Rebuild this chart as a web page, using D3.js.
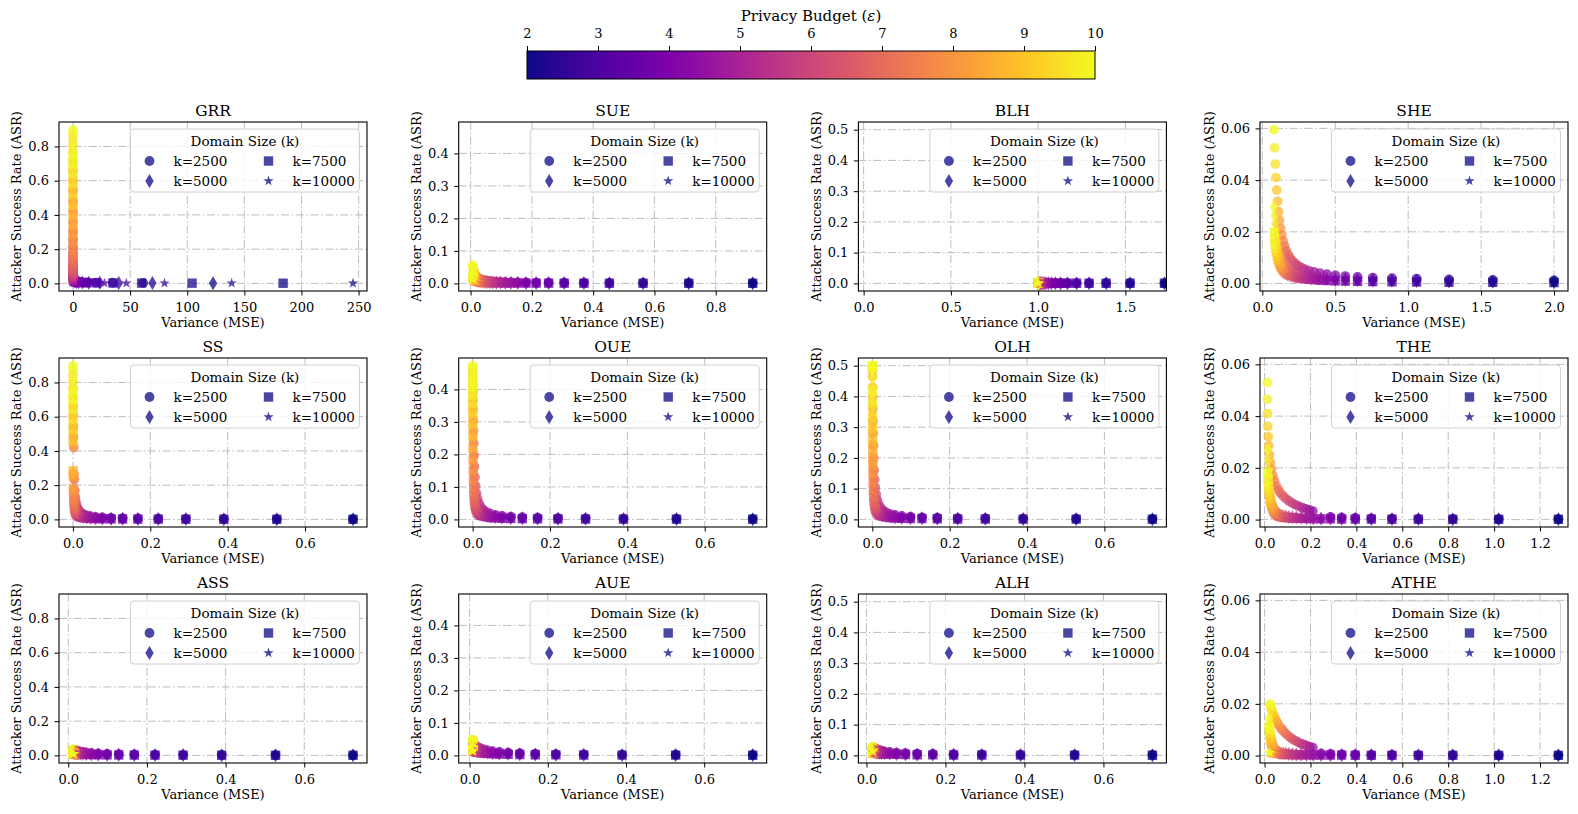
<!DOCTYPE html>
<html><head><meta charset="utf-8">
<script src="https://cdn.jsdelivr.net/npm/d3@7"></script>
<style>
body{margin:0;background:#fff;}
svg{display:block;font-family:"DejaVu Serif",serif;}
</style></head><body>
<svg id="chart" width="1578" height="814"></svg>
<script>
// ---------------- DATA ----------------
const epsilons = [2, 2.25, 2.5, 2.75, 3, 3.25, 3.5, 3.75, 4, 4.25, 4.5, 4.75, 5, 5.25, 5.5, 5.75, 6, 6.25, 6.5, 6.75, 7, 7.25, 7.5, 7.75, 8, 8.25, 8.5, 8.75, 9, 9.25, 9.5, 9.75, 10];
const domainSizes = [2500, 5000, 7500, 10000];
const domainLabels = ["k=2500", "k=5000", "k=7500", "k=10000"];
const panelNames = ["GRR", "SUE", "BLH", "SHE", "SS", "OUE", "OLH", "THE", "ASS", "AUE", "ALH", "ATHE"];
const colorbarTicks = [2, 3, 4, 5, 6, 7, 8, 9, 10];

const xTicksGRR = [0, 50, 100, 150, 200, 250];
const xTicksSUE = [0, 0.2, 0.4, 0.6, 0.8];
const xTicksBLH = [0, 0.5, 1.0, 1.5];
const xTicksSHE = [0, 0.5, 1.0, 1.5, 2.0];
const xTicksUnit = [0, 0.2, 0.4, 0.6];
const xTicksTHE = [0, 0.2, 0.4, 0.6, 0.8, 1.0, 1.2];
const yTicksCol1 = [0, 0.2, 0.4, 0.6, 0.8];
const yTicksCol2 = [0, 0.1, 0.2, 0.3, 0.4];
const yTicksCol3 = [0, 0.1, 0.2, 0.3, 0.4, 0.5];
const yTicksCol4 = [0, 0.02, 0.04, 0.06];
const xLimitsBLH = [-0.03, 1.735];
const xLimitsTHE = [-0.02, 1.322];

// GRR
const varGRR_2500 = [61.4, 34.8, 20.07, 11.72, 6.91, 4.107, 2.454, 1.474, 0.888, 0.538, 0.327, 0.199, 0.1218, 0.0748, 0.0462, 0.0287, 0.0179, 0.0113, 0.0072, 0.0046, 0.003, 0.002, 0.0013, 0.0009, 0.0006, 0.0004, 0.0003, 0.0002, 0.00016, 0.00012, 0.00009, 0.00007, 0.00005];
const varGRR_5000 = [122.6, 69.5, 40.07, 23.38, 13.77, 8.175, 4.878, 2.924, 1.759, 1.061, 0.642, 0.39, 0.237, 0.144, 0.0883, 0.0542, 0.0334, 0.0206, 0.0128, 0.008, 0.0051, 0.0032, 0.0021, 0.0014, 0.0009, 0.0006, 0.0004, 0.0003, 0.0002, 0.00014, 0.0001, 0.000075, 0.000056];
const varGRR_7500 = [183.9, 104.2, 60.06, 35.04, 20.64, 12.24, 7.302, 4.374, 2.629, 1.585, 0.958, 0.58, 0.352, 0.214, 0.1304, 0.0796, 0.0488, 0.03, 0.0185, 0.0115, 0.0072, 0.0045, 0.0029, 0.0018, 0.0012, 0.0008, 0.0005, 0.00035, 0.00024, 0.00017, 0.00012, 0.000084, 0.000061];
const varGRR_10000 = [245.1, 138.9, 80.06, 46.7, 27.5, 16.31, 9.726, 5.824, 3.499, 2.108, 1.273, 0.77, 0.467, 0.2835, 0.1725, 0.1051, 0.0642, 0.0393, 0.0242, 0.0149, 0.0092, 0.0058, 0.0036, 0.0023, 0.0015, 0.0009, 0.0006, 0.0004, 0.00028, 0.00019, 0.00013, 0.000092, 0.000066];
const asrGRR_2500 = [0.00295, 0.00378, 0.00485, 0.00622, 0.00797, 0.01021, 0.01308, 0.01673, 0.02138, 0.02729, 0.03477, 0.0442, 0.05606, 0.0709, 0.0892, 0.1117, 0.139, 0.1717, 0.2102, 0.2547, 0.305, 0.3604, 0.4198, 0.4816, 0.544, 0.605, 0.663, 0.7163, 0.7643, 0.8063, 0.8424, 0.8728, 0.8981];
const asrGRR_5000 = [0.00148, 0.00189, 0.00243, 0.00312, 0.004, 0.00513, 0.00658, 0.00843, 0.0108, 0.01383, 0.01769, 0.0226, 0.02883, 0.03672, 0.04666, 0.05913, 0.07468, 0.0939, 0.1174, 0.1459, 0.1799, 0.2198, 0.2656, 0.3171, 0.3736, 0.4336, 0.4958, 0.558, 0.6185, 0.6755, 0.7277, 0.7743, 0.815];
const asrGRR_7500 = [0.000984, 0.001264, 0.001622, 0.002081, 0.002672, 0.003427, 0.004397, 0.005638, 0.007228, 0.009263, 0.01186, 0.01518, 0.01941, 0.02478, 0.0316, 0.04021, 0.05105, 0.06461, 0.08147, 0.1023, 0.1276, 0.1581, 0.1943, 0.2364, 0.2844, 0.3379, 0.3959, 0.457, 0.5194, 0.5811, 0.6405, 0.6958, 0.746];
const asrGRR_10000 = [0.000738, 0.000948, 0.001217, 0.001562, 0.002005, 0.002573, 0.003301, 0.004234, 0.005431, 0.006963, 0.008923, 0.01143, 0.01463, 0.0187, 0.02389, 0.03047, 0.03878, 0.04925, 0.06237, 0.0787, 0.09883, 0.1234, 0.1531, 0.1884, 0.2297, 0.2768, 0.3296, 0.3869, 0.4476, 0.5099, 0.5719, 0.6318, 0.6878];

// SUE
const varSUE = [0.9207, 0.712, 0.5629, 0.4529, 0.3697, 0.3054, 0.2546, 0.2139, 0.181, 0.154, 0.1317, 0.1131, 0.0974, 0.0842, 0.073, 0.0634, 0.0551, 0.0481, 0.042, 0.0367, 0.0321, 0.0281, 0.0247, 0.0216, 0.019, 0.0167, 0.0147, 0.0129, 0.0114, 0.01, 0.0088, 0.0078, 0.0068];
const asrSUE_2500 = [0.00109, 0.00123, 0.00139, 0.00158, 0.00179, 0.00203, 0.0023, 0.0026, 0.00295, 0.00334, 0.00378, 0.00428, 0.00485, 0.00549, 0.00622, 0.00704, 0.00797, 0.00903, 0.01021, 0.01156, 0.01308, 0.01479, 0.01673, 0.01892, 0.02138, 0.02416, 0.02729, 0.0308, 0.03477, 0.03922, 0.0442, 0.0498, 0.05606];
const asrSUE_5000 = [0.000543, 0.000616, 0.000698, 0.000791, 0.000896, 0.001015, 0.00115, 0.0013, 0.00148, 0.00167, 0.00189, 0.00215, 0.00243, 0.00276, 0.00312, 0.00353, 0.004, 0.00453, 0.00513, 0.00581, 0.00658, 0.00745, 0.00843, 0.00955, 0.0108, 0.01223, 0.01383, 0.01564, 0.01769, 0.02, 0.0226, 0.02553, 0.02883];
const asrSUE_7500 = [0.000362, 0.000411, 0.000465, 0.000527, 0.000597, 0.000677, 0.000767, 0.000869, 0.000984, 0.001115, 0.001264, 0.001432, 0.001622, 0.001837, 0.002081, 0.002358, 0.002672, 0.003026, 0.003427, 0.003881, 0.004397, 0.00498, 0.005638, 0.006384, 0.007228, 0.008184, 0.009263, 0.01048, 0.01186, 0.01342, 0.01518, 0.01717, 0.01941];
const asrSUE_10000 = [0.000272, 0.000308, 0.000349, 0.000395, 0.000448, 0.000508, 0.000575, 0.000652, 0.000738, 0.000837, 0.000948, 0.001074, 0.001217, 0.001379, 0.001562, 0.00177, 0.002005, 0.002271, 0.002573, 0.002914, 0.003301, 0.003739, 0.004234, 0.004796, 0.005431, 0.006149, 0.006963, 0.007882, 0.008923, 0.0101, 0.01143, 0.01293, 0.01463];

// BLH
const varBLH = [1.724, 1.5267, 1.3898, 1.2918, 1.2205, 1.1679, 1.1284, 1.0987, 1.076, 1.0587, 1.0454, 1.0352, 1.0273, 1.0212, 1.0165, 1.0128, 1.00997, 1.00775, 1.00603, 1.00469, 1.00365, 1.00284, 1.00221, 1.00172, 1.00134, 1.00104, 1.00081, 1.00063, 1.00049, 1.00038, 1.0003, 1.00023, 1.00018];
const asrBLH_2500 = [0.0007, 0.00072, 0.00074, 0.00075, 0.00076, 0.00077, 0.00078, 0.00078, 0.00079, 0.00079, 0.00079, 0.0008, 0.0008, 0.0008, 0.0008, 0.0008, 0.0008, 0.0008, 0.0008, 0.0008, 0.0008, 0.0008, 0.0008, 0.0008, 0.0008, 0.0008, 0.0008, 0.0008, 0.0008, 0.0008, 0.0008, 0.0008, 0.0008];
const asrBLH_5000 = [0.00035, 0.00036, 0.00037, 0.00037, 0.00038, 0.00038, 0.00039, 0.00039, 0.00039, 0.0004, 0.0004, 0.0004, 0.0004, 0.0004, 0.0004, 0.0004, 0.0004, 0.0004, 0.0004, 0.0004, 0.0004, 0.0004, 0.0004, 0.0004, 0.0004, 0.0004, 0.0004, 0.0004, 0.0004, 0.0004, 0.0004, 0.0004, 0.0004];
const asrBLH_7500 = [0.00023, 0.00024, 0.00025, 0.00025, 0.00026, 0.00026, 0.00026, 0.00027, 0.00027, 0.00027, 0.00027, 0.00027, 0.00027, 0.00027, 0.00027, 0.00027, 0.00027, 0.00027, 0.00027, 0.00027, 0.00027, 0.00027, 0.00027, 0.00027, 0.00027, 0.00027, 0.00027, 0.00027, 0.00027, 0.00027, 0.00027, 0.00027, 0.00027];
const asrBLH_10000 = [0.00018, 0.00018, 0.00019, 0.00019, 0.00019, 0.0002, 0.0002, 0.0002, 0.0002, 0.0002, 0.0002, 0.0002, 0.0002, 0.0002, 0.0002, 0.0002, 0.0002, 0.0002, 0.0002, 0.0002, 0.0002, 0.0002, 0.0002, 0.0002, 0.0002, 0.0002, 0.0002, 0.0002, 0.0002, 0.0002, 0.0002, 0.0002, 0.0002];

// SHE
const varSHE = [2.0, 1.5802, 1.28, 1.0579, 0.8889, 0.7574, 0.6531, 0.5689, 0.5, 0.4429, 0.3951, 0.3546, 0.32, 0.2902, 0.2645, 0.242, 0.2222, 0.2048, 0.1893, 0.1756, 0.1633, 0.1522, 0.1422, 0.1332, 0.125, 0.1175, 0.1107, 0.1045, 0.0988, 0.0935, 0.0886, 0.0842, 0.08];
const asrSHE_2500 = [0.0012, 0.0014, 0.0016, 0.0019, 0.0021, 0.0023, 0.0026, 0.0029, 0.0032, 0.0036, 0.004, 0.0045, 0.005, 0.0056, 0.0063, 0.007, 0.0079, 0.0089, 0.01, 0.0113, 0.0128, 0.0145, 0.0165, 0.0188, 0.0214, 0.0244, 0.0278, 0.0318, 0.0362, 0.041, 0.0462, 0.0525, 0.0595];
const asrSHE_5000 = [0.0006, 0.0007, 0.0008, 0.00095, 0.00105, 0.00115, 0.0013, 0.00145, 0.0016, 0.0018, 0.002, 0.00225, 0.0025, 0.0028, 0.0032, 0.0035, 0.004, 0.0045, 0.005, 0.0057, 0.0064, 0.0073, 0.0083, 0.0094, 0.0107, 0.0122, 0.0139, 0.0159, 0.0181, 0.0205, 0.0231, 0.0262, 0.0297];
const asrSHE_7500 = [0.0004, 0.00047, 0.00053, 0.00063, 0.0007, 0.00077, 0.00087, 0.00097, 0.00107, 0.0012, 0.00133, 0.0015, 0.00167, 0.00187, 0.0021, 0.0023, 0.0027, 0.003, 0.0033, 0.0038, 0.0043, 0.0049, 0.0055, 0.0063, 0.0071, 0.0081, 0.0093, 0.0106, 0.0121, 0.0137, 0.0154, 0.0175, 0.0198];
const asrSHE_10000 = [0.0003, 0.00035, 0.0004, 0.00048, 0.00053, 0.00058, 0.00065, 0.00073, 0.0008, 0.0009, 0.001, 0.0011, 0.00125, 0.0014, 0.0016, 0.00175, 0.002, 0.00225, 0.0025, 0.0029, 0.0032, 0.0037, 0.0042, 0.0047, 0.0054, 0.0061, 0.007, 0.008, 0.009, 0.0103, 0.0116, 0.0131, 0.0149];

// SS / OUE / OLH share the same variance
const varOUE = [0.724, 0.527, 0.39, 0.292, 0.2206, 0.1679, 0.1284, 0.0987, 0.076, 0.0587, 0.0454, 0.0352, 0.0273, 0.0212, 0.01648, 0.01281, 0.00997, 0.00776, 0.00603, 0.00469, 0.00365, 0.00284, 0.00221, 0.00172, 0.00134, 0.00104, 0.00081, 0.00063, 0.00049, 0.00038, 0.0003, 0.00023, 0.00018];
const asrSS_2500 = [0.00168, 0.0021, 0.00263, 0.00333, 0.00422, 0.00537, 0.00684, 0.00873, 0.0111, 0.01425, 0.0184, 0.0236, 0.0296, 0.0384, 0.0496, 0.0628, 0.0821, 0.1019, 0.129, 0.1688, 0.2338, 0.265, 0.4198, 0.4816, 0.544, 0.605, 0.663, 0.7163, 0.7643, 0.8063, 0.8424, 0.8728, 0.8981];
const asrSS_5000 = [0.00084, 0.00105, 0.00132, 0.00167, 0.00211, 0.00268, 0.00341, 0.00435, 0.00556, 0.00713, 0.0091, 0.01165, 0.01504, 0.0192, 0.0248, 0.0314, 0.041, 0.0509, 0.0645, 0.0844, 0.1047, 0.1325, 0.1735, 0.2408, 0.272, 0.4336, 0.4958, 0.558, 0.6185, 0.6755, 0.7277, 0.7743, 0.815];
const asrSS_7500 = [0.00056, 0.0007, 0.00088, 0.00111, 0.00141, 0.00179, 0.00227, 0.0029, 0.00372, 0.00477, 0.00609, 0.00779, 0.00998, 0.0128, 0.0164, 0.0209, 0.0266, 0.0351, 0.0449, 0.0563, 0.0723, 0.0969, 0.1228, 0.1605, 0.1813, 0.2526, 0.2837, 0.457, 0.5194, 0.5811, 0.6405, 0.6958, 0.746];
const asrSS_10000 = [0.00042, 0.00052, 0.00066, 0.00083, 0.00105, 0.00134, 0.0017, 0.00218, 0.00279, 0.00357, 0.00455, 0.00585, 0.00747, 0.00957, 0.0123, 0.0157, 0.0201, 0.0261, 0.0333, 0.0422, 0.0552, 0.0709, 0.0867, 0.1204, 0.1574, 0.1782, 0.2479, 0.279, 0.4476, 0.5099, 0.5719, 0.6318, 0.6878];
const asrOUE_2500 = [0.00168, 0.0021, 0.00264, 0.00333, 0.00422, 0.00536, 0.00683, 0.00871, 0.01113, 0.01423, 0.01821, 0.02332, 0.0299, 0.0383, 0.0492, 0.063, 0.0807, 0.103, 0.13, 0.162, 0.197, 0.234, 0.271, 0.306, 0.339, 0.367, 0.392, 0.413, 0.43, 0.444, 0.456, 0.465, 0.473];
const asrOUE_5000 = [0.00084, 0.00105, 0.00132, 0.00166, 0.00211, 0.00268, 0.00341, 0.00435, 0.00556, 0.00711, 0.0091, 0.01166, 0.01494, 0.01916, 0.02457, 0.03153, 0.04045, 0.0519, 0.0666, 0.0853, 0.1087, 0.1369, 0.1695, 0.2053, 0.2425, 0.279, 0.314, 0.345, 0.373, 0.397, 0.417, 0.434, 0.447];
const asrOUE_7500 = [0.00056, 0.0007, 0.00088, 0.00111, 0.00141, 0.00179, 0.00227, 0.0029, 0.00371, 0.00474, 0.00607, 0.00778, 0.00996, 0.01277, 0.01638, 0.02102, 0.02697, 0.0346, 0.0444, 0.057, 0.0731, 0.0935, 0.1187, 0.1487, 0.1827, 0.2193, 0.2565, 0.2926, 0.3262, 0.3563, 0.3826, 0.405, 0.4238];
const asrOUE_10000 = [0.00042, 0.00052, 0.00066, 0.00083, 0.00105, 0.00134, 0.00171, 0.00218, 0.00278, 0.00356, 0.00455, 0.00583, 0.00747, 0.00958, 0.01229, 0.01576, 0.02022, 0.02595, 0.03331, 0.04277, 0.0549, 0.0704, 0.0901, 0.1146, 0.1439, 0.1774, 0.2137, 0.2509, 0.2872, 0.3213, 0.352, 0.3789, 0.402];
const asrOLH_2500 = [0.0017, 0.0021, 0.0026, 0.0033, 0.0042, 0.0054, 0.0068, 0.0087, 0.0111, 0.0142, 0.0182, 0.0233, 0.03, 0.038, 0.049, 0.063, 0.081, 0.103, 0.13, 0.16, 0.2, 0.24, 0.28, 0.32, 0.36, 0.4, 0.43, 0.465, 0.485, 0.495, 0.498, 0.499, 0.5];
const asrOLH_5000 = [0.0008, 0.0011, 0.0013, 0.0017, 0.0021, 0.0027, 0.0034, 0.0044, 0.0056, 0.0071, 0.0091, 0.0117, 0.0149, 0.0192, 0.0246, 0.0315, 0.0405, 0.052, 0.067, 0.085, 0.109, 0.137, 0.17, 0.205, 0.24, 0.28, 0.31, 0.345, 0.375, 0.4, 0.43, 0.46, 0.485];
const asrOLH_7500 = [0.0006, 0.0007, 0.0009, 0.0011, 0.0014, 0.0018, 0.0023, 0.0029, 0.0037, 0.0047, 0.0061, 0.0078, 0.01, 0.0128, 0.0164, 0.021, 0.027, 0.0346, 0.0444, 0.057, 0.073, 0.094, 0.119, 0.15, 0.175, 0.2, 0.23, 0.26, 0.295, 0.33, 0.375, 0.42, 0.5];
const asrOLH_10000 = [0.0004, 0.0005, 0.0007, 0.0008, 0.0011, 0.0013, 0.0017, 0.0022, 0.0028, 0.0036, 0.0046, 0.0058, 0.0075, 0.0096, 0.0123, 0.0158, 0.0202, 0.026, 0.033, 0.043, 0.055, 0.07, 0.09, 0.115, 0.144, 0.177, 0.214, 0.251, 0.287, 0.321, 0.352, 0.379, 0.402];

// THE
const varTHE = [1.28, 1.02, 0.82, 0.67, 0.555, 0.465, 0.395, 0.336, 0.287, 0.246, 0.212, 0.183, 0.159, 0.138, 0.121, 0.106, 0.093, 0.082, 0.072, 0.064, 0.056, 0.05, 0.044, 0.039, 0.035, 0.031, 0.027, 0.024, 0.0215, 0.019, 0.017, 0.015, 0.0135];
const varTHE_2500 = [1.28, 1.02, 0.82, 0.67, 0.555, 0.465, 0.395, 0.336, 0.287, 0.21, 0.195, 0.18, 0.165, 0.15, 0.135, 0.12, 0.106, 0.093, 0.081, 0.07, 0.06, 0.051, 0.043, 0.036, 0.03, 0.025, 0.021, 0.018, 0.016, 0.014, 0.013, 0.0125, 0.012];
const asrTHE_2500 = [0.0002, 0.0002, 0.0003, 0.0003, 0.0004, 0.0005, 0.0006, 0.0008, 0.001, 0.0033, 0.0037, 0.0041, 0.0046, 0.0051, 0.0057, 0.0064, 0.0072, 0.0081, 0.0091, 0.0102, 0.0115, 0.013, 0.015, 0.017, 0.0195, 0.022, 0.025, 0.0285, 0.032, 0.036, 0.041, 0.0465, 0.053];
const asrTHE_5000 = [0.0001, 0.0001, 0.0001, 0.0002, 0.0002, 0.0002, 0.0003, 0.0003, 0.0004, 0.0004, 0.0005, 0.0006, 0.0007, 0.0008, 0.0009, 0.001, 0.0012, 0.0014, 0.0016, 0.0019, 0.0024, 0.0031, 0.004, 0.005, 0.0063, 0.0078, 0.0095, 0.0115, 0.014, 0.0165, 0.0195, 0.023, 0.027];
const asrTHE_7500 = [0.0001, 0.0001, 0.0001, 0.0001, 0.0001, 0.0002, 0.0002, 0.0002, 0.0003, 0.0003, 0.0003, 0.0004, 0.0005, 0.0005, 0.0006, 0.0007, 0.0008, 0.0009, 0.0011, 0.0013, 0.0016, 0.0021, 0.0027, 0.0034, 0.0043, 0.0053, 0.0064, 0.0077, 0.0093, 0.011, 0.013, 0.0155, 0.018];
const asrTHE_10000 = [0.0001, 0.0001, 0.0001, 0.0001, 0.0001, 0.0001, 0.0001, 0.0002, 0.0002, 0.0002, 0.0003, 0.0003, 0.0003, 0.0004, 0.0005, 0.0005, 0.0006, 0.0007, 0.0008, 0.001, 0.0012, 0.0016, 0.002, 0.0025, 0.0032, 0.004, 0.0048, 0.0058, 0.007, 0.0083, 0.0098, 0.0115, 0.0135];

// ASS
const varASS = [0.724, 0.527, 0.39, 0.292, 0.2206, 0.1679, 0.1284, 0.0987, 0.076, 0.0587, 0.0454, 0.037, 0.031, 0.027, 0.024, 0.022, 0.02, 0.019, 0.018, 0.017, 0.0165, 0.016, 0.0155, 0.015, 0.0145, 0.014, 0.0137, 0.0134, 0.0131, 0.0128, 0.0125, 0.0122, 0.012];
const asrASS_2500 = [0.0017, 0.0021, 0.0026, 0.0033, 0.0042, 0.0054, 0.0068, 0.0087, 0.011, 0.014, 0.017, 0.02, 0.022, 0.024, 0.026, 0.027, 0.028, 0.029, 0.029, 0.03, 0.03, 0.031, 0.031, 0.031, 0.032, 0.032, 0.032, 0.032, 0.033, 0.033, 0.033, 0.033, 0.033];
const asrASS_5000 = [0.0008, 0.0011, 0.0013, 0.0017, 0.0021, 0.0027, 0.0034, 0.0044, 0.0056, 0.0071, 0.0087, 0.01, 0.011, 0.012, 0.013, 0.0135, 0.014, 0.0145, 0.0145, 0.015, 0.015, 0.0155, 0.0155, 0.0155, 0.016, 0.016, 0.016, 0.016, 0.0165, 0.0165, 0.0165, 0.0165, 0.0165];
const asrASS_7500 = [0.0006, 0.0007, 0.0009, 0.0011, 0.0014, 0.0018, 0.0023, 0.0029, 0.0037, 0.0047, 0.0058, 0.0067, 0.0073, 0.008, 0.0087, 0.009, 0.0093, 0.0097, 0.0097, 0.01, 0.01, 0.0103, 0.0103, 0.0103, 0.0107, 0.0107, 0.0107, 0.0107, 0.011, 0.011, 0.011, 0.011, 0.011];
const asrASS_10000 = [0.0004, 0.0005, 0.0007, 0.0008, 0.0011, 0.0013, 0.0017, 0.0022, 0.0028, 0.0035, 0.0043, 0.005, 0.0055, 0.006, 0.0065, 0.0068, 0.007, 0.0073, 0.0073, 0.0075, 0.0075, 0.0078, 0.0078, 0.0078, 0.008, 0.008, 0.008, 0.008, 0.0083, 0.0083, 0.0083, 0.0083, 0.0083];

// AUE
const varAUE = [0.724, 0.527, 0.39, 0.292, 0.2206, 0.1679, 0.1284, 0.0987, 0.076, 0.0587, 0.0454, 0.0352, 0.0273, 0.0215, 0.0175, 0.0145, 0.0125, 0.011, 0.0102, 0.0096, 0.0092, 0.0089, 0.0087, 0.0085, 0.0084, 0.0083, 0.0082, 0.0081, 0.0081, 0.008, 0.008, 0.008, 0.008];
const asrAUE_2500 = [0.0017, 0.0021, 0.0026, 0.0033, 0.0042, 0.0054, 0.0068, 0.0087, 0.011, 0.013, 0.016, 0.019, 0.022, 0.025, 0.028, 0.031, 0.034, 0.036, 0.038, 0.04, 0.041, 0.042, 0.043, 0.044, 0.045, 0.045, 0.046, 0.046, 0.046, 0.047, 0.047, 0.047, 0.047];
const asrAUE_5000 = [0.0009, 0.0012, 0.0014, 0.0018, 0.0023, 0.003, 0.0037, 0.0048, 0.006, 0.0072, 0.0088, 0.0105, 0.012, 0.0138, 0.0154, 0.017, 0.0187, 0.0198, 0.0209, 0.022, 0.0226, 0.0231, 0.0237, 0.0242, 0.0248, 0.0248, 0.0253, 0.0253, 0.0253, 0.0259, 0.0259, 0.0259, 0.0259];
const asrAUE_7500 = [0.0006, 0.0008, 0.001, 0.0013, 0.0016, 0.0021, 0.0026, 0.0033, 0.0042, 0.0049, 0.0061, 0.0072, 0.0084, 0.0095, 0.0106, 0.0118, 0.0129, 0.0137, 0.0144, 0.0152, 0.0156, 0.016, 0.0163, 0.0167, 0.0171, 0.0171, 0.0175, 0.0175, 0.0175, 0.0179, 0.0179, 0.0179, 0.0179];
const asrAUE_10000 = [0.0005, 0.0006, 0.0008, 0.001, 0.0012, 0.0016, 0.002, 0.0025, 0.0032, 0.0038, 0.0046, 0.0055, 0.0064, 0.0073, 0.0081, 0.009, 0.0099, 0.0104, 0.011, 0.0116, 0.0119, 0.0122, 0.0125, 0.0128, 0.013, 0.013, 0.0133, 0.0133, 0.0133, 0.0136, 0.0136, 0.0136, 0.0136];

// ALH
const varALH = [0.724, 0.527, 0.39, 0.292, 0.2206, 0.1679, 0.1284, 0.0987, 0.076, 0.0587, 0.0454, 0.038, 0.033, 0.029, 0.026, 0.024, 0.0225, 0.021, 0.02, 0.019, 0.0185, 0.018, 0.0175, 0.017, 0.0167, 0.0164, 0.0161, 0.0158, 0.0156, 0.0154, 0.0152, 0.015, 0.015];
const asrALH_2500 = [0.0015, 0.0019, 0.0024, 0.003, 0.0038, 0.0048, 0.006, 0.0075, 0.0092, 0.011, 0.013, 0.015, 0.017, 0.0185, 0.02, 0.021, 0.022, 0.023, 0.0235, 0.024, 0.0245, 0.025, 0.025, 0.025, 0.0255, 0.0255, 0.0255, 0.026, 0.026, 0.026, 0.026, 0.026, 0.026];
const asrALH_5000 = [0.0008, 0.001, 0.0013, 0.0016, 0.002, 0.0025, 0.0031, 0.0039, 0.0048, 0.0058, 0.0068, 0.0079, 0.0089, 0.0097, 0.0105, 0.011, 0.0116, 0.0121, 0.0124, 0.0126, 0.0129, 0.0131, 0.0131, 0.0131, 0.0134, 0.0134, 0.0134, 0.0137, 0.0137, 0.0137, 0.0137, 0.0137, 0.0137];
const asrALH_7500 = [0.0005, 0.0007, 0.0009, 0.0011, 0.0013, 0.0017, 0.0021, 0.0026, 0.0032, 0.0039, 0.0046, 0.0053, 0.006, 0.0065, 0.007, 0.0074, 0.0077, 0.0081, 0.0082, 0.0084, 0.0086, 0.0088, 0.0088, 0.0088, 0.0089, 0.0089, 0.0089, 0.0091, 0.0091, 0.0091, 0.0091, 0.0091, 0.0091];
const asrALH_10000 = [0.0004, 0.0005, 0.0006, 0.0008, 0.001, 0.0012, 0.0015, 0.0019, 0.0024, 0.0029, 0.0035, 0.0041, 0.0047, 0.0053, 0.0059, 0.0065, 0.007, 0.0076, 0.008, 0.0085, 0.009, 0.0095, 0.01, 0.0105, 0.011, 0.0115, 0.012, 0.0125, 0.013, 0.0135, 0.014, 0.0145, 0.015];

// ATHE
const varATHE = [1.28, 1.02, 0.82, 0.67, 0.555, 0.465, 0.395, 0.336, 0.287, 0.246, 0.212, 0.183, 0.159, 0.138, 0.121, 0.106, 0.093, 0.082, 0.072, 0.064, 0.056, 0.05, 0.045, 0.04, 0.036, 0.033, 0.03, 0.028, 0.026, 0.024, 0.022, 0.021, 0.02];
const varATHE_2500 = [1.28, 1.02, 0.82, 0.67, 0.555, 0.465, 0.395, 0.336, 0.287, 0.246, 0.21, 0.197, 0.185, 0.172, 0.16, 0.147, 0.135, 0.123, 0.112, 0.101, 0.091, 0.082, 0.073, 0.065, 0.058, 0.052, 0.046, 0.041, 0.036, 0.032, 0.029, 0.026, 0.024];
const asrATHE_2500 = [0.0001, 0.0001, 0.0002, 0.0002, 0.0003, 0.0003, 0.0004, 0.0005, 0.0006, 0.0008, 0.0031, 0.0034, 0.0038, 0.0042, 0.0046, 0.0051, 0.0057, 0.0063, 0.007, 0.0078, 0.0086, 0.0095, 0.0104, 0.0113, 0.0123, 0.0133, 0.0143, 0.0153, 0.0163, 0.0173, 0.0183, 0.0192, 0.02];
const asrATHE_5000 = [0.0001, 0.0001, 0.0001, 0.0001, 0.0001, 0.0002, 0.0002, 0.0002, 0.0002, 0.0003, 0.0003, 0.0003, 0.0004, 0.0004, 0.0005, 0.0006, 0.0007, 0.0008, 0.0009, 0.001, 0.0015, 0.002, 0.0027, 0.0035, 0.0045, 0.0056, 0.0068, 0.008, 0.0092, 0.0105, 0.0118, 0.013, 0.0145];
const asrATHE_7500 = [0.0001, 0.0001, 0.0001, 0.0001, 0.0001, 0.0001, 0.0001, 0.0002, 0.0002, 0.0002, 0.0002, 0.0003, 0.0003, 0.0003, 0.0004, 0.0004, 0.0005, 0.0006, 0.0007, 0.0008, 0.001, 0.0013, 0.0018, 0.0024, 0.0031, 0.0039, 0.0047, 0.0056, 0.0066, 0.0076, 0.0087, 0.0098, 0.011];
const asrATHE_10000 = [0.0001, 0.0001, 0.0001, 0.0001, 0.0001, 0.0001, 0.0001, 0.0001, 0.0001, 0.0001, 0.0002, 0.0002, 0.0002, 0.0002, 0.0003, 0.0003, 0.0003, 0.0004, 0.0004, 0.0005, 0.0005, 0.0006, 0.0006, 0.0007, 0.0007, 0.0008, 0.0008, 0.0009, 0.0009, 0.001, 0.0011, 0.0011, 0.0012];

// ---------------- TABLE ----------------
const f1 = d3.format(".1f"), f2 = d3.format(".2f"), fInt = d3.format("d");
const panels = [
  {xs:[varGRR_2500,varGRR_5000,varGRR_7500,varGRR_10000], ys:[asrGRR_2500,asrGRR_5000,asrGRR_7500,asrGRR_10000], xt:xTicksGRR, xf:fInt},
  {xs:[varSUE,varSUE,varSUE,varSUE], ys:[asrSUE_2500,asrSUE_5000,asrSUE_7500,asrSUE_10000], xt:xTicksSUE, xf:f1},
  {xs:[varBLH,varBLH,varBLH,varBLH], ys:[asrBLH_2500,asrBLH_5000,asrBLH_7500,asrBLH_10000], xt:xTicksBLH, xf:f1, xlim:xLimitsBLH},
  {xs:[varSHE,varSHE,varSHE,varSHE], ys:[asrSHE_2500,asrSHE_5000,asrSHE_7500,asrSHE_10000], xt:xTicksSHE, xf:f1},
  {xs:[varOUE,varOUE,varOUE,varOUE], ys:[asrSS_2500,asrSS_5000,asrSS_7500,asrSS_10000], xt:xTicksUnit, xf:f1},
  {xs:[varOUE,varOUE,varOUE,varOUE], ys:[asrOUE_2500,asrOUE_5000,asrOUE_7500,asrOUE_10000], xt:xTicksUnit, xf:f1},
  {xs:[varOUE,varOUE,varOUE,varOUE], ys:[asrOLH_2500,asrOLH_5000,asrOLH_7500,asrOLH_10000], xt:xTicksUnit, xf:f1},
  {xs:[varTHE_2500,varTHE,varTHE,varTHE], ys:[asrTHE_2500,asrTHE_5000,asrTHE_7500,asrTHE_10000], xt:xTicksTHE, xf:f1, xlim:xLimitsTHE},
  {xs:[varASS,varASS,varASS,varASS], ys:[asrASS_2500,asrASS_5000,asrASS_7500,asrASS_10000], xt:xTicksUnit, xf:f1},
  {xs:[varAUE,varAUE,varAUE,varAUE], ys:[asrAUE_2500,asrAUE_5000,asrAUE_7500,asrAUE_10000], xt:xTicksUnit, xf:f1},
  {xs:[varALH,varALH,varALH,varALH], ys:[asrALH_2500,asrALH_5000,asrALH_7500,asrALH_10000], xt:xTicksUnit, xf:f1},
  {xs:[varATHE_2500,varATHE,varATHE,varATHE], ys:[asrATHE_2500,asrATHE_5000,asrATHE_7500,asrATHE_10000], xt:xTicksTHE, xf:f1, xlim:xLimitsTHE}
];
panels.forEach((p,i)=>{p.name = panelNames[i];});
const colYTicks = [yTicksCol1, yTicksCol2, yTicksCol3, yTicksCol4];
const colYFmt = [f1, f1, f1, f2];

// ---------------- LAYOUT ----------------
const svg = d3.select("#chart");
const colLeft = [59, 458.7, 858.4, 1260], axW = 308;
const rowTop = [122, 358, 594], axH = 169;
const color = d3.scaleSequential(d3.interpolatePlasma).domain([2, 10]);
const ALPHA = 0.75;

function padDomain(vals){
  const mn = d3.min(vals), mx = d3.max(vals), r = mx - mn;
  return [mn - 0.05*r, mx + 0.05*r];
}
const colYDomain = [0,1,2,3].map(c=>{
  const vals = [];
  [0,1,2].forEach(r=>panels[r*4+c].ys.forEach(a=>a.forEach(v=>vals.push(v))));
  return padDomain(vals);
});

function starPath(R, r){
  let d = "";
  for(let i=0;i<10;i++){
    const rad = i%2===0 ? R : r;
    const a = -Math.PI/2 + i*Math.PI/5;
    d += (i===0?"M":"L") + (rad*Math.cos(a)).toFixed(2) + "," + (rad*Math.sin(a)).toFixed(2);
  }
  return d + "Z";
}
const markerPaths = [
  d3.symbol(d3.symbolCircle, Math.PI*4.9*4.9)(),
  "M0,-7L4.2,0L0,7L-4.2,0Z",
  "M-4.7,-4.7L4.7,-4.7L4.7,4.7L-4.7,4.7Z",
  starPath(5.4, 2.1)
];

// ---------------- COLORBAR ----------------
const cbX = d3.scaleLinear().domain([2,10]).range([527, 1095]);
const cbTop = 51, cbH = 28;
const defs = svg.append("defs");
const grad = defs.append("linearGradient").attr("id","plasmaGrad").attr("x1","0%").attr("x2","100%");
d3.range(0, 1.0001, 0.05).forEach(t=>{
  grad.append("stop").attr("offset", (t*100)+"%").attr("stop-color", d3.interpolatePlasma(t));
});
svg.append("rect").attr("x", cbX(2)).attr("y", cbTop).attr("width", cbX(10)-cbX(2)).attr("height", cbH)
  .attr("fill","url(#plasmaGrad)").attr("stroke","#000").attr("stroke-width",1);
const cbAxis = svg.append("g").attr("transform",`translate(0,${cbTop})`)
  .call(d3.axisTop(cbX).tickValues(colorbarTicks).tickFormat(fInt).tickSizeInner(5).tickSizeOuter(0).tickPadding(8));
cbAxis.select(".domain").remove();
cbAxis.selectAll("text").attr("font-family","DejaVu Serif").attr("font-size",13).attr("fill","#000");
cbAxis.selectAll("line").attr("stroke","#000");
const cbLabel = svg.append("text").attr("x", (cbX(2)+cbX(10))/2).attr("y", 21).attr("text-anchor","middle")
  .attr("font-size",15).attr("fill","#000");
cbLabel.append("tspan").text("Privacy Budget (");
cbLabel.append("tspan").attr("font-style","italic").text("ε");
cbLabel.append("tspan").text(")");

// ---------------- PANELS ----------------
panels.forEach((p, idx)=>{
  const c = idx % 4, r = Math.floor(idx / 4);
  const g = svg.append("g").attr("transform",`translate(${colLeft[c]},${rowTop[r]})`);
  const allX = []; p.xs.forEach(a=>a.forEach(v=>allX.push(v)));
  const x = d3.scaleLinear().domain(p.xlim || padDomain(allX)).range([0, axW]);
  const y = d3.scaleLinear().domain(colYDomain[c]).range([axH, 0]);
  const yt = colYTicks[c];

  const grid = g.append("g").attr("stroke","#bdbdbd").attr("stroke-width",1).attr("stroke-dasharray","8,2.6,1.6,2.6");
  grid.selectAll(".gx").data(p.xt).join("line").attr("x1",d=>x(d)).attr("x2",d=>x(d)).attr("y1",0).attr("y2",axH);
  grid.selectAll(".gy").data(yt).join("line").attr("y1",d=>y(d)).attr("y2",d=>y(d)).attr("x1",0).attr("x2",axW);

  const clipId = "clip"+idx;
  defs.append("clipPath").attr("id",clipId).append("rect").attr("width",axW).attr("height",axH);
  const pg = g.append("g").attr("clip-path",`url(#${clipId})`);
  domainSizes.forEach((k, s)=>{
    const pts = epsilons.map((e,i)=>({e, xv:p.xs[s][i], yv:p.ys[s][i]}));
    pg.append("g").selectAll("path").data(pts).join("path")
      .attr("d", markerPaths[s])
      .attr("transform", d=>`translate(${x(d.xv).toFixed(2)},${y(d.yv).toFixed(2)})`)
      .attr("fill", d=>color(d.e))
      .attr("fill-opacity", ALPHA);
  });

  g.append("rect").attr("width",axW).attr("height",axH).attr("fill","none").attr("stroke","#000").attr("stroke-width",1.1);

  const xa = g.append("g").attr("transform",`translate(0,${axH})`)
    .call(d3.axisBottom(x).tickValues(p.xt).tickFormat(p.xf).tickSizeInner(4.5).tickSizeOuter(0).tickPadding(7));
  const ya = g.append("g")
    .call(d3.axisLeft(y).tickValues(yt).tickFormat(colYFmt[c]).tickSizeInner(4.5).tickSizeOuter(0).tickPadding(5.5));
  [xa, ya].forEach(a=>{
    a.select(".domain").remove();
    a.selectAll("text").attr("font-family","DejaVu Serif").attr("font-size",13).attr("fill","#000");
    a.selectAll("line").attr("stroke","#000").attr("stroke-width",1);
  });

  g.append("text").attr("x",axW/2).attr("y",-6.5).attr("text-anchor","middle").attr("font-size",15.5).attr("fill","#000").text(p.name);
  g.append("text").attr("x",axW/2).attr("y",axH+36).attr("text-anchor","middle").attr("font-size",13).attr("fill","#000").text("Variance (MSE)");
  const bb = ya.node().getBBox();
  g.append("text").attr("transform",`translate(${bb.x-7},${axH/2}) rotate(-90)`).attr("text-anchor","middle")
    .attr("font-size",13).attr("fill","#000").text("Attacker Success Rate (ASR)");

  const lw = 229, lh = 63;
  const lx = axW - 7.5 - lw, ly = 7;
  const lg = g.append("g").attr("transform",`translate(${lx},${ly})`);
  lg.append("rect").attr("width",lw).attr("height",lh).attr("rx",3.5).attr("fill","#fff").attr("fill-opacity",0.8)
    .attr("stroke","#d0d0d0").attr("stroke-width",1);
  lg.append("text").attr("x",lw/2).attr("y",17).attr("text-anchor","middle").attr("font-size",13.5).attr("fill","#000").text("Domain Size (k)");
  const legPos = [[19,43,32],[19,43,52],[138,162,32],[138,162,52]];
  domainSizes.forEach((k,s)=>{
    const [mx, tx, cy] = legPos[s];
    lg.append("path").attr("d",markerPaths[s]).attr("transform",`translate(${mx},${cy})`)
      .attr("fill",color(2)).attr("fill-opacity",ALPHA);
    lg.append("text").attr("x",tx).attr("y",cy+4.8).attr("font-size",13.5).attr("fill","#000").text(domainLabels[s]);
  });
});
</script>
</body></html>
